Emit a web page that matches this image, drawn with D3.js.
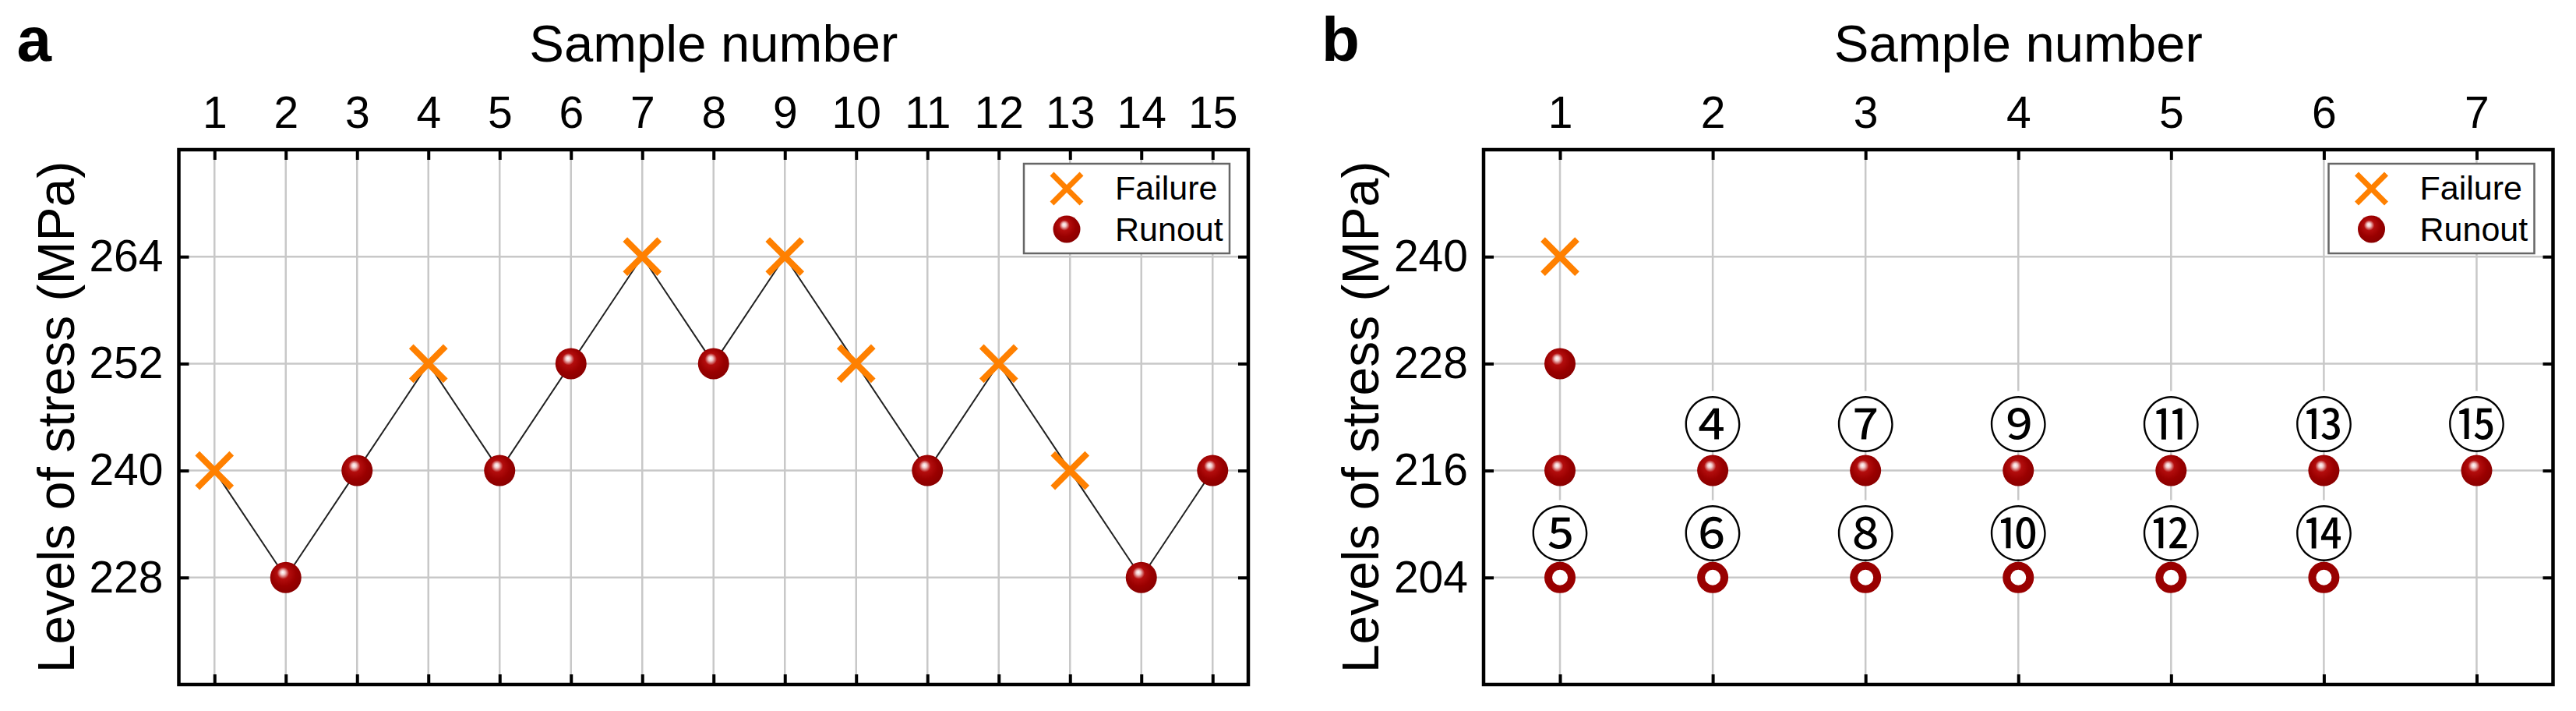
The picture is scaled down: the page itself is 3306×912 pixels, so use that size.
<!DOCTYPE html>
<html>
<head>
<meta charset="utf-8">
<script src="https://cdn.jsdelivr.net/npm/d3@7"></script>
<style>
	body { margin: 0; background: #fff; }
	svg { display: block; }
	text { font-family: "Liberation Sans", Arial, sans-serif; fill: #000; }
</style>
</head>
<body>
<script>
(function(){

	//panel a: staircase test, one specimen per sample
	var samplesA = [1, 2, 3, 4, 5, 6, 7, 8, 9, 10, 11, 12, 13, 14, 15];
	var stressA = [240, 228, 240, 252, 240, 252, 264, 252, 264, 252, 240, 252, 240, 228, 240];
	var resultA = ["Failure", "Runout", "Runout", "Failure", "Runout", "Runout", "Failure", "Runout",
		"Failure", "Failure", "Runout", "Failure", "Failure", "Runout", "Runout"];
	var xTicksA = [1, 2, 3, 4, 5, 6, 7, 8, 9, 10, 11, 12, 13, 14, 15];
	var yTicksA = [228, 240, 252, 264];

	//panel b: samples by stress level
	var failSamplesB = [1];
	var failStressB = [240];
	var runSamplesB = [1, 1, 2, 3, 4, 5, 6, 7];
	var runStressB = [228, 216, 216, 216, 216, 216, 216, 216];
	var openSamplesB = [1, 2, 3, 4, 5, 6];
	var openStressB = [204, 204, 204, 204, 204, 204];
	var noteSamplesB = [2, 3, 4, 5, 6, 7, 1, 2, 3, 4, 5, 6];
	var noteTextB = ["④", "⑦", "⑨", "⑪", "⑬", "⑮", "⑤", "⑥", "⑧", "⑩", "⑫", "⑭"];
	var noteRowB = ["above", "above", "above", "above", "above", "above",
		"below", "below", "below", "below", "below", "below"];
	var xTicksB = [1, 2, 3, 4, 5, 6, 7];
	var yTicksB = [204, 216, 228, 240];

	var legendNames = ["Failure", "Runout"];

	var width = 3306, height = 912;
	var plotTop = 192, plotBottom = 878, plotW = 1372.5;
	var orange = "#ff8000", darkRed = "#990000";

	var svg = d3.select("body")
		.append("svg")
		.attr("width", width)
		.attr("height", height);

	//shiny ball gradient for runout markers
	var grad = svg.append("defs")
		.append("radialGradient")
		.attr("id", "ball")
		.attr("cx", 0.45).attr("cy", 0.42).attr("r", 0.6)
		.attr("fx", 0.4).attr("fy", 0.33);
	[[0, "#ffffff"], [0.12, "#f2caca"], [0.32, "#b30d0d"], [0.65, "#9a0000"], [1, "#880000"]].forEach(function(s){
		grad.append("stop").attr("offset", s[0]).attr("stop-color", s[1]);
	});

	function drawCross(g, cx, cy, half, sw){
		g.append("path")
			.attr("d", "M" + (cx - half) + "," + (cy - half) + "L" + (cx + half) + "," + (cy + half) +
				"M" + (cx - half) + "," + (cy + half) + "L" + (cx + half) + "," + (cy - half))
			.style("stroke", orange)
			.style("stroke-width", sw)
			.style("fill", "none");
	};

	function drawBall(g, cx, cy, r){
		g.append("circle")
			.attr("cx", cx).attr("cy", cy).attr("r", r)
			.style("fill", "url(#ball)");
	};

	//set up one panel frame, grid, axes and labels
	function setPanel(left, letter, xDomain, xTicks, yDomain, yTicks){
		var x = d3.scaleLinear().domain(xDomain).range([left, left + plotW]);
		var y = d3.scaleLinear().domain(yDomain).range([plotBottom, plotTop]);
		var g = svg.append("g");

		//grid lines
		g.selectAll(".vgrid")
			.data(xTicks)
			.enter()
			.append("line")
			.attr("class", "vgrid")
			.attr("x1", function(d){ return x(d); })
			.attr("x2", function(d){ return x(d); })
			.attr("y1", plotTop).attr("y2", plotBottom)
			.style("stroke", "#c8c8c8").style("stroke-width", 2.5);
		g.selectAll(".hgrid")
			.data(yTicks)
			.enter()
			.append("line")
			.attr("class", "hgrid")
			.attr("y1", function(d){ return y(d); })
			.attr("y2", function(d){ return y(d); })
			.attr("x1", left).attr("x2", left + plotW)
			.style("stroke", "#c8c8c8").style("stroke-width", 2.5);

		var layer = svg.append("g"); //marks go here, under the frame

		var frame = svg.append("g");
		var top = frame.append("g")
			.attr("transform", "translate(0," + plotTop + ")")
			.call(d3.axisTop(x).tickValues(xTicks).tickSize(-13).tickPadding(28).tickFormat(d3.format("d")));
		var bottom = frame.append("g")
			.attr("transform", "translate(0," + plotBottom + ")")
			.call(d3.axisBottom(x).tickValues(xTicks).tickSize(-13).tickFormat(""));
		var leftAx = frame.append("g")
			.attr("transform", "translate(" + left + ",0)")
			.call(d3.axisLeft(y).tickValues(yTicks).tickSize(-13).tickPadding(20).tickFormat(d3.format("d")));
		var rightAx = frame.append("g")
			.attr("transform", "translate(" + (left + plotW) + ",0)")
			.call(d3.axisRight(y).tickValues(yTicks).tickSize(-13).tickFormat(""));
		frame.selectAll(".domain").remove();
		frame.selectAll(".tick line").style("stroke", "#000").style("stroke-width", 4);
		frame.selectAll(".tick text")
			.style("font-family", "'Liberation Sans', Arial, sans-serif")
			.style("font-size", "57px")
			.style("fill", "#000");
		leftAx.selectAll(".tick text").attr("dy", "0.32em");
		top.selectAll(".tick text").attr("dy", "0em");

		frame.append("rect")
			.attr("x", left).attr("y", plotTop)
			.attr("width", plotW).attr("height", plotBottom - plotTop)
			.style("fill", "none").style("stroke", "#000").style("stroke-width", 4.5);

		//axis titles and panel letter
		svg.append("text")
			.attr("x", left + plotW / 2).attr("y", 79)
			.attr("text-anchor", "middle")
			.style("font-size", "67px")
			.text("Sample number");
		svg.append("text")
			.attr("transform", "translate(" + (left - 135) + "," + ((plotTop + plotBottom) / 2) + ") rotate(-90)")
			.attr("text-anchor", "middle")
			.style("font-size", "66px")
			.text("Levels of stress (MPa)");
		svg.append("text")
			.attr("x", left - 208).attr("y", 78)
			.style("font-size", "80px")
			.style("font-weight", "bold")
			.text(letter);

		//legend
		var lx = left + plotW - 24 - 264, ly = 210;
		var leg = svg.append("g");
		leg.append("rect")
			.attr("x", lx).attr("y", ly).attr("width", 264).attr("height", 115)
			.style("fill", "#fff").style("stroke", "#666").style("stroke-width", 2.5);
		drawCross(leg, lx + 55, ly + 32, 19, 7);
		drawBall(leg, lx + 55, ly + 84, 17.5);
		leg.selectAll(".legText")
			.data(legendNames)
			.enter()
			.append("text")
			.attr("class", "legText")
			.attr("x", lx + 117)
			.attr("y", function(d, i){ return ly + 46 + i * 53; })
			.style("font-size", "43px")
			.text(function(d){ return d; });

		return {x: x, y: y, layer: layer};
	};

	//panel a
	var pa = setPanel(229.5, "a", [0.5, 15.5], xTicksA, [216, 276], yTicksA);
	var line = d3.line()
		.x(function(d, i){ return pa.x(samplesA[i]); })
		.y(function(d){ return pa.y(d); });
	pa.layer.append("path")
		.datum(stressA)
		.attr("d", line)
		.style("fill", "none")
		.style("stroke", "#222")
		.style("stroke-width", 2);
	samplesA.forEach(function(s, i){
		if (resultA[i] == "Failure"){
			drawCross(pa.layer, pa.x(s), pa.y(stressA[i]), 22, 8);
		} else {
			drawBall(pa.layer, pa.x(s), pa.y(stressA[i]), 20);
		};
	});

	//panel b
	var pb = setPanel(1904, "b", [0.5, 7.5], xTicksB, [192, 252], yTicksB);
	failSamplesB.forEach(function(s, i){
		drawCross(pb.layer, pb.x(s), pb.y(failStressB[i]), 22, 8);
	});
	runSamplesB.forEach(function(s, i){
		drawBall(pb.layer, pb.x(s), pb.y(runStressB[i]), 20);
	});
	openSamplesB.forEach(function(s, i){
		pb.layer.append("circle")
			.attr("cx", pb.x(s)).attr("cy", pb.y(openStressB[i])).attr("r", 15)
			.style("fill", "#fff")
			.style("stroke", darkRed)
			.style("stroke-width", 10);
	});
	//circled specimen numbers, white behind to break the grid
	noteSamplesB.forEach(function(s, i){
		var cy = pb.y(216) + (noteRowB[i] == "above" ? -64 : 76);
		pb.layer.append("circle")
			.attr("cx", pb.x(s)).attr("cy", cy).attr("r", 38)
			.style("fill", "#fff");
		pb.layer.append("text")
			.attr("x", pb.x(s)).attr("y", cy)
			.attr("text-anchor", "middle")
			.attr("dominant-baseline", "central")
			.style("font-family", "'Noto Sans CJK JP', 'DejaVu Sans', sans-serif")
			.style("font-size", "76px")
			.text(noteTextB[i]);
	});

})();
</script>
</body>
</html>
